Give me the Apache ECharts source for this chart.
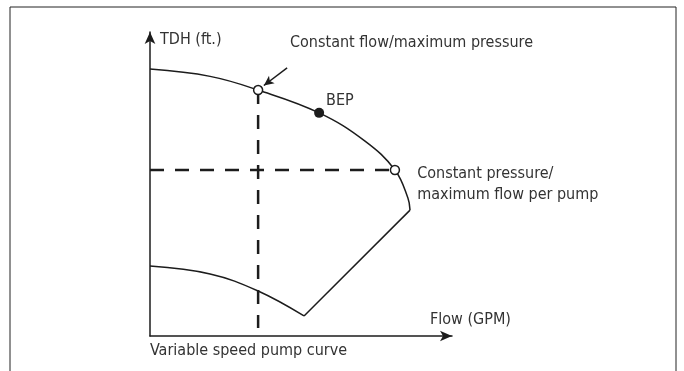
<!DOCTYPE html>
<html>
<head>
<meta charset="utf-8">
<script src="https://cdn.jsdelivr.net/npm/echarts@6/dist/echarts.min.js"></script>
<style>
  html, body { margin: 0; padding: 0; background: #fff; }
  #chart { width: 684px; height: 371px; }
</style>
</head>
<body>
<div id="chart"></div>
<script>
// Variable speed pump curve: flow (x) vs. total dynamic head (y), in relative units 0-100.
const upperCurve = [
  [0, 87.8], [19.9, 85.4], [35.8, 80.9], [56.0, 73.4], [71.2, 64.1],
  [81.1, 54.6], [85.4, 45.4], [86.1, 41.4]
];
const runoutLine = [[86.1, 41.4], [51.0, 6.6]];
const lowerCurve = [[0, 23.0], [19.9, 20.4], [35.8, 14.8], [51.0, 6.6]];
const constantFlowPoint = [35.8, 80.9];
const constantPressurePoint = [81.1, 54.6];
const bepPoint = [56.0, 73.4];
const axisFloor = 2.6;
const pointerFrom = [45.4, 88.2];
const pointerTo = [37.7, 82.4];

const titles = {
  yAxis: 'TDH (ft.)',
  xAxis: 'Flow (GPM)',
  caption: 'Variable speed pump curve',
  constantFlow: 'Constant flow/maximum pressure',
  constantPressure: 'Constant pressure/\nmaximum flow per pump',
  bep: 'BEP'
};

const FONT = '"Liberation Sans Narrow", "DejaVu Sans Condensed", sans-serif';
const INK = '#1c1c1c';
const TEXT = '#333';

const chart = echarts.init(document.getElementById('chart'), null, { renderer: 'canvas' });

// free-standing text, placed by its left edge and vertical centre
const freeText = (txt, x, yMid) => ({
  type: 'text', x: x, y: yMid, silent: true,
  style: { text: txt, font: '16px ' + FONT, fill: TEXT, align: 'left', verticalAlign: 'middle' }
});

chart.setOption({
  animation: false,
  backgroundColor: '#fff',
  grid: { left: 150, right: 232, top: 32, bottom: 35 },
  xAxis: {
    type: 'value', min: 0, max: 100,
    axisLine: { show: true, symbol: ['none', 'arrow'], symbolSize: [8, 12],
      lineStyle: { color: INK, width: 1.5 } },
    axisTick: { show: false }, axisLabel: { show: false }, splitLine: { show: false }
  },
  yAxis: {
    type: 'value', min: 0, max: 100,
    axisLine: { show: true, symbol: ['none', 'arrow'], symbolSize: [8, 12],
      lineStyle: { color: INK, width: 1.5 } },
    axisTick: { show: false }, axisLabel: { show: false }, splitLine: { show: false }
  },
  graphic: [
    { type: 'polyline', silent: true,
      shape: { points: [[10, 380], [10, 7], [676, 7], [676, 380]] },
      style: { stroke: '#222', lineWidth: 1, fill: null } },
    freeText(titles.yAxis, 160, 40),
    freeText(titles.constantFlow, 290, 43),
    freeText(titles.xAxis, 430, 320),
    freeText(titles.caption, 150, 351)
  ],
  series: [
    { // constant-flow guide
      type: 'line', silent: true, symbol: 'none', z: 1,
      data: [constantFlowPoint, [constantFlowPoint[0], axisFloor]],
      lineStyle: { color: INK, width: 2.5, type: [14, 11] }
    },
    { // constant-pressure guide
      type: 'line', silent: true, symbol: 'none', z: 1,
      data: [[0, constantPressurePoint[1]], constantPressurePoint],
      lineStyle: { color: INK, width: 2.5, type: [14, 11] }
    },
    {
      type: 'line', silent: true, symbol: 'none', smooth: 0.4, z: 2,
      data: upperCurve, lineStyle: { color: INK, width: 1.5 }
    },
    {
      type: 'line', silent: true, symbol: 'none', z: 2,
      data: runoutLine, lineStyle: { color: INK, width: 1.5 }
    },
    {
      type: 'line', silent: true, symbol: 'none', smooth: 0.4, z: 2,
      data: lowerCurve, lineStyle: { color: INK, width: 1.5 }
    },
    { // operating points
      type: 'scatter', silent: true, z: 5,
      itemStyle: { opacity: 1 },
      data: [
        { value: constantFlowPoint, symbolSize: 9,
          itemStyle: { color: '#fff', borderColor: INK, borderWidth: 1.5, opacity: 1 } },
        { value: constantPressurePoint, symbolSize: 9,
          itemStyle: { color: '#fff', borderColor: INK, borderWidth: 1.5, opacity: 1 },
          label: { show: true, formatter: titles.constantPressure, position: 'right',
            distance: 17, offset: [0, 14], fontFamily: FONT, fontSize: 16,
            color: TEXT, lineHeight: 21, align: 'left' } },
        { value: bepPoint, symbolSize: 10,
          itemStyle: { color: INK, opacity: 1 },
          label: { show: true, formatter: titles.bep, position: 'right',
            distance: 2, offset: [0, -12], fontFamily: FONT, fontSize: 16, color: TEXT } }
      ],
      markLine: {
        silent: true, symbol: ['none', 'arrow'], symbolSize: [7, 10],
        label: { show: false },
        lineStyle: { color: INK, width: 1.5, type: 'solid' },
        data: [[{ coord: pointerFrom }, { coord: pointerTo }]]
      }
    }
  ]
});
</script>
</body>
</html>
